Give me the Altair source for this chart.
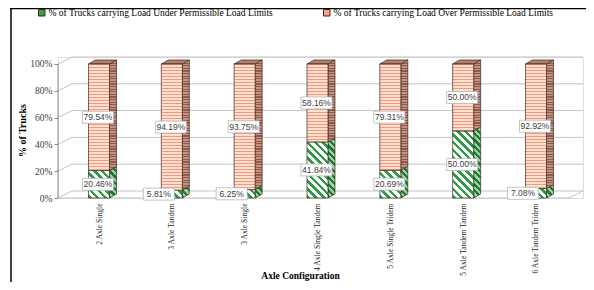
import math
import altair as alt
import pandas as pd

# ---------------- data ----------------
categories = ["2 Axle Single", "3 Axle Tandem", "3 Axle Single", "4 Axle Single Tandem",
              "5 Axle Single Tridem", "5 Axle Tandem Tandem", "6 Axle Tandem Tridem"]
under_pct = [20.46, 5.81, 6.25, 41.84, 20.69, 50.00, 7.08]
over_pct = [79.54, 94.19, 93.75, 58.16, 79.31, 50.00, 92.92]
y_ticks = [0, 20, 40, 60, 80, 100]
series_names = ["% of Trucks carrying Load Under Permissible Load Limits",
                "% of Trucks carrying Load Over Permissible Load Limits"]

# ---------------- geometry / style constants ----------------
W, H = 525, 141
PX_X = 72.83                 # px per category step
X0 = -0.563
X1 = X0 + W / PX_X
Y1 = 105.2
PX_Y = H / Y1
HW = 10.5 / PX_X             # half width of bar front
SD = 7 / PX_X                # bar depth (x)
SDY = 4 / PX_Y               # bar depth (y)
WD = 14 / PX_X               # wall depth (x)
WDY = 7 / PX_Y               # wall depth (y)
EDGE = "#3a2a22"


def stripe_stops(step, frac, fg, bg):
    stops = []
    t0 = 0.0
    while t0 < 1:
        t1 = min(t0 + frac * step, 1.0)
        t2 = min(t0 + step, 1.0)
        stops += [{"offset": t0, "color": fg}, {"offset": t1, "color": fg},
                  {"offset": t1, "color": bg}, {"offset": t2, "color": bg}]
        t0 += step
    return stops


def diag(w, h, period, frac, fg, bg):
    k = (w + h) / (w * w + h * h)
    span = (w + h) / math.sqrt(2)
    return {"gradient": "linear", "x1": 0, "y1": 1, "x2": k * w, "y2": 1 - k * h,
            "stops": stripe_stops(period / span, frac, fg, bg)}


def hstripes(h, period, frac, fg, bg):
    return {"gradient": "linear", "x1": 0, "y1": 0, "x2": 0, "y2": 1,
            "stops": stripe_stops(period / max(h, 1), frac, fg, bg)}


front_rows, area_rows, lab_rows, grid_rows = [], [], [], []
for i, (u, o) in enumerate(zip(under_pct, over_pct)):
    for s, lo, hi, v in [("under", 0, u, u), ("over", u, u + o, o)]:
        hpx = (hi - lo) * PX_Y
        if s == "under":
            gf = diag(21, hpx, 5.5, 0.45, "#2f9b47", "#ffffff")
            gs = diag(7, hpx + 4, 4.5, 0.5, "#1f7a33", "#9fd09f")
        else:
            gf = hstripes(hpx, 3.0, 0.33, "#f29886", "#fde0cc")
            gs = hstripes(hpx + 4, 2.6, 0.45, "#8f5a49", "#c39282")
        front_rows.append(dict(x=i - HW, x2=i + HW, y=lo, y2=hi, fill=gf))
        sid = f"{i}{s}"
        area_rows.append(dict(sid=sid, k=0, x=i + HW, y=lo, y2=hi, fill=gs))
        area_rows.append(dict(sid=sid, k=1, x=i + HW + SD, y=lo + SDY, y2=hi + SDY, fill=gs))
        off = -13 if v < 10 else -1
        lab_rows.append(dict(x=i + off / PX_X, y=(lo + hi) / 2, t=f"{v:.2f}%",
                             series=series_names[0] if s == "under" else series_names[1]))
    T = u + o
    tid = f"{i}top"
    for k, (xx, a, b) in enumerate([(i - HW, T, T), (i - HW + SD, T, T + SDY),
                                     (i + HW, T, T + SDY), (i + HW + SD, T + SDY, T + SDY)]):
        area_rows.append(dict(sid=tid, k=k, x=xx, y=a, y2=b, fill="#b3806c"))

# back wall grid lines and floor
for t in y_ticks:
    pts = [(X0, t), (X0 + WD, t + WDY), (X1, t + WDY)]
    for k, (xx, yy) in enumerate(pts):
        grid_rows.append(dict(lid=f"g{t}", k=k, x=xx, y=yy, c="#c4c4c4"))
for k, (xx, yy) in enumerate([(X0, 0), (X1 - WD, 0), (X1, WDY)]):
    grid_rows.append(dict(lid="floor", k=k, x=xx, y=yy, c="#c4c4c4"))
for k, (xx, yy) in enumerate([(X0, 0), (X0, 100)]):
    grid_rows.append(dict(lid="axis", k=k, x=xx, y=yy, c="#8c8c8c"))

xscale = alt.Scale(domain=[X0, X1], nice=False, zero=False)
yscale = alt.Scale(domain=[0, Y1], nice=False, zero=False)

label_expr = "[" + ",".join("'" + c + "'" for c in categories) + "][datum.value]"

x_axis = alt.Axis(values=list(range(len(categories))), labelExpr=label_expr, labelAngle=-90,
                  labelPadding=5, ticks=False, domain=False, grid=False, labelOverlap=False,
                  labelFlush=False, labelBound=False,
                  title="Axle Configuration", titleX=242, titleY=77,
                  titleAlign="center", titleBaseline="middle")
y_axis = alt.Axis(values=y_ticks, labelExpr="datum.value + '%'", grid=False, domain=False,
                  tickSize=4, labelPadding=2,
                  labelOverlap=False, labelFlush=False, labelBound=False,
                  title="% of Trucks", titleX=-36, titleY=73,
                  titleAngle=-90, titleAlign="center", titleBaseline="middle")

X = lambda: alt.X("x:Q", scale=xscale, axis=x_axis)
Y = lambda: alt.Y("y:Q", scale=yscale, axis=y_axis)

grid = alt.Chart(alt.Data(values=grid_rows)).mark_line(strokeWidth=1).encode(
    x=X(), y=Y(),
    detail="lid:N",
    order="k:Q",
    color=alt.Color("c:N", scale=None),
)

areas = alt.Chart(alt.Data(values=area_rows)).mark_area(
    stroke=EDGE, strokeWidth=0.7, interpolate="linear", opacity=1).encode(
    x=X(), y=Y(),
    y2="y2:Q",
    detail="sid:N",
    color=alt.Color("fill:N", scale=None),
)

fronts = alt.Chart(alt.Data(values=front_rows)).mark_rect(stroke=EDGE, strokeWidth=0.7).encode(
    x=X(), x2="x2:Q", y=Y(), y2="y2:Q",
    fill=alt.Fill("fill:N", scale=None),
)

boxes = alt.Chart(alt.Data(values=lab_rows)).mark_point(
    shape="M-1.55,-0.6H1.55V0.6H-1.55Z", size=400, filled=True, fill="#ffffff",
    stroke="#b5b5b5", strokeWidth=0.8, opacity=1).encode(x=X(), y=Y())

texts = alt.Chart(alt.Data(values=lab_rows)).mark_text(
    font="Liberation Sans", fontSize=8.5, color="#404040").encode(
    x=X(), y=Y(), text="t:N")

legend_layer = alt.Chart(alt.Data(values=lab_rows)).mark_square(opacity=0, size=10).encode(
    x=X(), y=Y(),
    color=alt.Color("series:N", scale=alt.Scale(domain=series_names, range=["#3aa04e", "#f4a58a"]),
                    legend=alt.Legend(orient="none", legendX=-21, legendY=-49, direction="horizontal",
                                      title=None, symbolType="square", symbolSize=42,
                                      symbolStrokeColor="#333333", symbolStrokeWidth=1,
                                      symbolOpacity=1, labelFont="Liberation Serif",
                                      labelFontSize=9.5, labelColor="#000000", labelLimit=0,
                                      labelOffset=2, columnPadding=48, padding=0)),
)

dummy = alt.Data(values=[{"a": 0}])
frame_left = alt.Chart(dummy).mark_rule(color="#000000", strokeWidth=1.5).encode(
    x=alt.value(-47), y=alt.value(-50), y2=alt.value(226))
frame_top = alt.Chart(dummy).mark_rule(color="#000000", strokeWidth=1.5).encode(
    x=alt.value(-48), x2=alt.value(530), y=alt.value(-48.5))

chart = alt.layer(grid, areas, fronts, boxes, texts, legend_layer, frame_left, frame_top).properties(
    width=W, height=H,
    autosize=alt.AutoSizeParams(type="none"),
    padding={"left": 50, "top": 49, "right": 3, "bottom": 84},
).configure_view(stroke=None).configure(background="#ffffff").configure_axisX(
    labelFont="Liberation Serif", labelFontSize=7.6, labelColor="#222222",
    titleFont="Liberation Serif", titleFontSize=9.5, titleFontWeight="bold", titleColor="#000000",
).configure_axisY(
    labelFont="Liberation Serif", labelFontSize=9.5, labelColor="#404040", labelOverlap=False,
    tickColor="#8c8c8c",
    titleFont="Liberation Serif", titleFontSize=10, titleFontWeight="bold", titleColor="#000000",
)

chart.save("out.html", embed_options={"renderer": "svg", "actions": False})
